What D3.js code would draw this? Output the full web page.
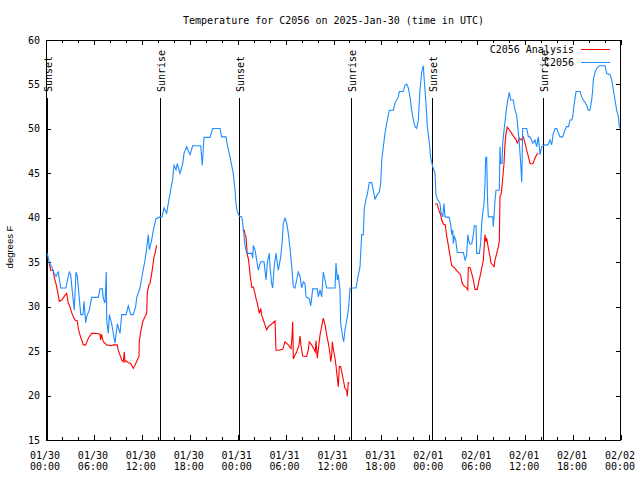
<!DOCTYPE html>
<html><head><meta charset="utf-8">
<script src="https://cdn.jsdelivr.net/npm/d3@7"></script>
<style>
body{margin:0;background:#fff}
svg{display:block}
text{font-family:"DejaVu Sans Mono",monospace;font-size:10px;fill:#000}
</style>
</head><body>
<svg id="chart" width="640" height="480"></svg>
<script>
// ---- data (hours since 2025-01-30 00:00 UTC, degrees F) ----
const obsHours = [
0.16,0.41,0.71,1.00,1.25,1.54,1.84,2.50,2.59,2.92,
3.09,3.22,3.42,3.54,3.76,3.92,4.17,4.35,4.63,4.76,
4.97,5.13,5.42,5.72,6.55,6.76,7.05,7.18,7.39,7.55,
7.60,7.70,7.80,7.93,8.23,8.64,8.93,9.27,9.48,10.02,
10.31,10.61,10.93,11.23,11.36,11.77,11.98,12.40,12.52,12.81,
12.94,13.24,13.44,13.77,14.28,14.53,14.78,15.11,15.31,15.61,
15.87,16.03,16.28,16.44,16.78,17.12,17.28,17.62,18.03,18.37,
19.37,19.57,19.78,20.54,20.87,21.79,22.00,22.54,22.70,22.95,
23.25,23.45,23.67,23.79,23.95,24.20,24.51,24.63,24.79,24.92,
25.13,25.76,25.88,25.96,26.17,26.38,26.58,26.88,27.30,27.55,
27.71,27.96,28.05,28.26,28.39,28.55,28.80,29.09,29.39,29.59,
29.71,29.93,30.14,30.34,30.55,30.77,30.97,31.18,31.39,31.59,
31.81,32.02,32.22,32.43,32.56,32.97,33.15,33.40,33.97,34.10,
34.31,34.52,34.72,34.94,35.15,36.19,36.31,36.48,36.60,36.81,
36.90,37.15,37.28,37.44,37.57,37.78,37.94,38.07,38.82,38.99,
39.32,39.53,39.73,39.86,40.07,40.23,40.48,40.78,40.98,41.20,
41.48,41.74,41.91,42.04,42.24,42.45,42.74,42.99,43.49,43.70,
44.11,44.24,44.74,44.95,45.17,45.37,45.58,45.79,45.99,46.21,
46.42,46.62,46.83,47.05,47.25,47.33,47.58,47.75,48.00,48.17,
48.42,48.71,48.83,49.00,49.34,49.43,49.68,49.84,49.96,50.50,
50.68,50.81,50.93,51.00,51.13,51.30,51.50,52.26,52.47,52.68,
52.81,52.97,53.09,53.31,53.51,53.63,53.85,53.93,54.26,54.43,
54.56,54.68,54.85,54.97,55.06,55.18,55.29,55.39,55.94,56.01,
56.23,56.35,56.76,56.85,56.94,57.10,57.19,57.35,57.69,57.89,
58.01,58.19,58.51,58.73,58.94,59.07,59.27,59.44,59.57,59.69,
60.19,60.40,60.61,60.95,61.23,61.44,61.65,61.86,62.07,62.48,
62.86,63.11,63.32,63.52,63.74,63.95,64.36,64.70,64.99,65.20,
65.43,65.62,65.83,65.96,66.12,66.37,66.87,67.08,67.28,67.70,
67.91,68.12,68.33,68.46,68.53,68.75,68.96,69.28,70.00,70.21,
70.63,70.84,71.04,71.25,71.46,71.67,71.79,71.88];
const obsTemps = [
36.0,34.95,34.5,33.8,33.4,33.9,32.1,32.1,32.6,33.9,
33.6,32.4,30.6,29.6,33.9,33.4,30.9,29.1,29.1,30.6,
28.2,29.0,29.6,31.05,31.05,32.0,32.0,30.9,30.4,33.9,
28.5,27.7,27.0,29.1,28.05,25.9,28.05,27.0,29.1,29.1,
30.1,29.1,29.1,30.0,31.05,32.1,33.2,35.25,36.0,38.1,
36.4,37.5,38.6,39.9,40.1,40.1,41.1,40.5,41.6,43.1,
44.4,45.9,45.4,46.1,45.0,46.1,47.25,48.0,47.1,48.1,
48.1,45.9,49.05,49.05,50.05,50.05,49.1,49.1,48.2,47.25,
45.9,45.0,43.1,41.6,40.7,40.2,40.1,39.4,38.1,36.9,
36.0,36.0,35.45,36.9,36.4,35.25,34.1,35.05,35.05,33.0,
34.9,36.0,34.5,32.6,32.1,34.3,36.0,34.1,35.6,37.5,
39.4,39.95,39.4,38.25,36.6,34.5,32.25,32.1,33.0,33.9,
33.4,32.1,32.8,32.6,31.1,30.9,30.1,32.0,32.0,31.1,
31.9,31.1,33.9,33.0,32.1,32.1,34.9,33.0,33.6,31.9,
28.1,26.6,26.05,27.4,28.05,29.1,30.4,32.1,32.1,33.0,
34.5,38.1,38.1,41.1,42.1,42.6,43.95,43.95,43.1,42.1,
42.6,42.9,43.9,46.5,48.0,49.5,51.0,52.1,52.1,52.9,
53.6,54.2,54.2,54.9,55.05,54.6,53.6,52.1,51.0,50.25,
50.05,51.0,54.4,56.4,57.1,55.9,52.9,50.25,48.4,46.7,
45.75,45.0,42.6,42.1,41.6,40.7,40.1,41.6,40.1,40.05,
39.2,38.1,38.65,37.1,37.9,37.5,36.1,36.1,35.25,35.8,
38.1,37.3,37.05,37.05,38.1,39.1,39.1,36.0,36.0,37.1,
39.4,40.5,41.6,43.9,46.8,46.8,42.0,40.1,40.1,39.0,
42.0,43.1,43.1,48.0,46.1,46.1,48.4,49.8,52.5,53.6,
54.1,53.25,53.25,52.1,51.55,50.25,48.4,46.1,44.0,50.05,
50.05,49.1,49.1,48.4,48.75,48.0,49.1,47.1,48.0,48.2,
48.2,48.75,48.2,49.5,50.05,50.05,49.1,49.1,49.9,50.25,
50.25,51.0,51.0,51.4,52.7,54.2,54.2,53.6,53.25,52.7,
52.1,52.1,53.25,54.4,55.5,56.4,56.8,57.1,57.1,56.25,
56.1,55.5,54.4,53.25,52.1,51.4,50.25,50.05];

// analysis series, null marks a gap between night segments
const anaHours = [
0.41,0.59,0.91,1.00,1.25,1.41,1.67,1.97,2.25,2.59,2.79,
3.01,3.22,3.42,3.63,3.92,4.04,4.26,4.47,4.67,4.97,
5.30,5.72,6.26,6.76,6.85,6.95,7.18,7.60,8.23,8.43,
8.93,9.05,9.27,9.48,9.68,9.80,9.89,10.02,10.31,10.61,
10.93,11.14,11.43,11.65,11.68,11.86,12.11,12.40,12.61,12.68,
12.86,13.02,13.24,13.36,13.52,13.65,13.86,
null,
24.63,24.83,24.92,25.04,25.13,25.21,25.33,25.46,25.55,25.67,
25.76,25.96,26.17,26.30,26.46,26.58,26.71,26.88,27.01,27.21,
27.42,27.63,27.84,28.26,28.68,28.80,29.09,29.64,29.93,30.34,
30.68,30.81,30.89,30.97,31.18,31.39,31.68,31.81,31.93,32.14,
32.64,32.85,32.97,33.27,33.56,33.72,33.81,33.97,34.10,34.31,
34.52,34.72,34.94,35.15,35.35,35.56,35.65,35.77,35.85,35.98,
36.19,36.31,36.48,36.60,36.73,36.90,37.03,37.23,37.44,37.65,
37.73,37.85,37.98,
null,
48.71,49.00,49.12,49.25,49.43,49.55,49.75,50.00,50.18,50.38,
50.50,50.68,50.81,51.00,51.22,51.43,51.75,51.93,52.06,52.26,
52.47,52.68,52.81,52.88,53.09,53.31,53.51,53.72,54.01,54.14,
54.35,54.56,54.76,54.97,55.10,55.18,55.39,55.60,55.72,55.94,
56.10,56.23,56.44,56.64,56.76,56.85,56.97,57.06,57.19,57.35,
57.48,57.60,57.76,58.01,58.31,58.60,58.85,59.01,59.27,59.48,
59.77,59.98,60.19,60.40,60.61,60.95,61.23,61.44,61.65];
const anaTemps = [
34.9,34.1,34.1,33.4,32.6,31.9,30.6,30.75,31.1,31.5,30.4,
30.0,29.3,28.9,28.5,28.4,27.55,26.8,26.25,25.7,25.7,
26.45,27.0,27.0,26.9,26.25,26.9,26.05,25.7,25.6,25.7,
25.7,25.1,24.55,24.0,23.8,24.9,23.8,23.9,23.7,23.6,
23.05,23.4,24.0,24.4,26.05,27.2,28.3,28.9,29.25,31.5,
32.4,32.6,33.75,34.5,35.55,36.0,36.9,
null,
38.6,38.6,38.1,37.9,36.75,35.8,35.45,34.5,33.6,32.8,
32.2,32.2,31.5,30.9,30.4,29.8,29.25,29.8,29.05,28.5,
27.95,27.4,27.75,28.05,28.4,25.1,25.1,25.2,26.05,25.7,
25.3,26.7,28.3,24.1,24.55,24.9,25.7,26.7,25.6,24.45,
24.4,25.2,26.05,25.7,25.2,24.9,26.2,24.2,25.2,26.8,
27.75,28.7,27.95,26.8,25.9,24.75,23.8,24.55,26.05,25.2,
24.2,23.4,21.95,21.0,23.25,23.25,22.7,21.75,20.8,20.6,
19.9,21.45,21.45,
null,
41.55,41.55,41.05,40.7,40.3,39.75,39.3,39.2,37.9,36.9,
36.2,35.25,34.6,34.5,34.3,34.05,33.75,33.55,32.8,32.4,
32.25,32.1,31.9,34.4,34.4,33.75,33.0,31.95,31.95,32.6,
33.4,34.3,35.25,38.1,37.3,37.7,36.6,35.6,34.9,34.7,
34.5,35.25,36.0,36.75,37.3,42.4,42.6,43.2,44.45,46.1,
48.4,49.5,50.2,49.9,49.5,49.1,48.8,48.4,48.95,48.75,
49.1,48.4,47.6,46.9,46.1,46.05,46.7,47.1,47.25];

const sunHours  = [0.17, 14.33, 24.2, 38.23, 48.3, 62.27];
const sunLabels = ["Sunset","Sunrise","Sunset","Sunrise","Sunset","Sunrise"];

const xTickHours = [0,6,12,18,24,30,36,42,48,54,60,66,72];
const xTickDates = ["01/30","01/30","01/30","01/30","01/31","01/31","01/31","01/31","02/01","02/01","02/01","02/01","02/02"];
const xTickTimes = ["00:00","06:00","12:00","18:00","00:00","06:00","12:00","18:00","00:00","06:00","12:00","18:00","00:00"];
const xMinorHours = d3.range(0, 73, 2);
const yTickValues = [15,20,25,30,35,40,45,50,55,60];

const seriesNames = ["C2056 Analysis", "C2056"];
const seriesColors = ["#ff0000", "#1e8cff"];
const titleText = "Temperature for C2056 on 2025-Jan-30 (time in UTC)";
const yLabelText = "degrees F";

// ---- layout ----
const L = 46, R = 621, T = 40, B = 440;
const svg = d3.select("#chart");
const x = d3.scaleLinear().domain([0, 72]).range([L, R]);
const y = d3.scaleLinear().domain([15, 60]).range([B, T]);

// axes (ticks pointing inward, mirrored)
function styleAxis(g){ g.select(".domain").remove(); g.selectAll("line").attr("stroke","#000"); g.attr("shape-rendering","crispEdges"); }
svg.append("g").attr("transform",`translate(0,${B})`)
  .call(d3.axisBottom(x).tickValues(xMinorHours).tickSize(-3).tickFormat("")).call(styleAxis);
svg.append("g").attr("transform",`translate(0,${B})`)
  .call(d3.axisBottom(x).tickValues(xTickHours).tickSize(-5).tickFormat("")).call(styleAxis);
svg.append("g").attr("transform",`translate(0,${T})`)
  .call(d3.axisTop(x).tickValues(xMinorHours).tickSize(-3).tickFormat("")).call(styleAxis);
svg.append("g").attr("transform",`translate(0,${T})`)
  .call(d3.axisTop(x).tickValues(xTickHours).tickSize(-5).tickFormat("")).call(styleAxis);
svg.append("g").attr("transform",`translate(${L},0)`)
  .call(d3.axisLeft(y).tickValues(yTickValues).tickSize(-5).tickFormat("")).call(styleAxis);
svg.append("g").attr("transform",`translate(${R},0)`)
  .call(d3.axisRight(y).tickValues(yTickValues).tickSize(-5).tickFormat("")).call(styleAxis);

// tick labels
const xl = svg.append("g").selectAll("text").data(xTickHours).join("text")
  .attr("text-anchor","middle");
xl.append("tspan").attr("x", d => x(d) - 1).attr("y", 458.5).text((d,i) => xTickDates[i]);
xl.append("tspan").attr("x", d => x(d) - 1).attr("y", 469.5).text((d,i) => xTickTimes[i]);

svg.append("g").selectAll("text").data(yTickValues).join("text")
  .attr("text-anchor","end").attr("x", L - 6).attr("y", d => y(d) + 3.5).text(d => d);

// border
svg.append("rect").attr("x", L + 0.5).attr("y", T + 0.5).attr("width", R - L - 1).attr("height", B - T)
  .attr("fill","none").attr("stroke","#000").attr("shape-rendering","crispEdges");

// title and y label
svg.append("text").attr("x", (L + R) / 2).attr("y", 24).attr("text-anchor","middle").text(titleText);
svg.append("text").attr("transform","translate(13,247) rotate(-90)").attr("text-anchor","middle")
  .style("font-family","'Liberation Sans',Arial,sans-serif").style("font-size","9.5px").text(yLabelText);

// sunrise / sunset
const sun = svg.append("g");
sun.selectAll("line").data(sunHours).join("line")
  .attr("x1", d => Math.round(x(d)) + 0.5).attr("x2", d => Math.round(x(d)) + 0.5)
  .attr("y1", 98).attr("y2", B).attr("stroke","#000").attr("stroke-width",1.2)
  .attr("shape-rendering","crispEdges");
sun.selectAll("text").data(sunHours).join("text")
  .attr("transform", d => `translate(${Math.round(x(d)) + 5},92) rotate(-90)`)
  .attr("text-anchor","start").text((d,i) => sunLabels[i]);

// data lines
const ana = anaHours.map((h,i) => ({h, t: anaTemps[i]}));
const obs = obsHours.map((h,i) => ({h, t: obsTemps[i]}));
const line = d3.line().defined(d => d.h != null && d.t != null).x(d => x(d.h)).y(d => y(d.t));
svg.append("path").datum(ana).attr("d", line).attr("fill","none")
  .attr("stroke", seriesColors[0]).attr("stroke-width", 1.1);
svg.append("path").datum(obs).attr("d", line).attr("fill","none")
  .attr("stroke", seriesColors[1]).attr("stroke-width", 1.1);

// legend
const legY = [49.5, 62.5];
const leg = svg.append("g");
seriesNames.forEach((name, i) => {
  leg.append("text").attr("x", 574).attr("y", legY[i] + 3.5).attr("text-anchor","end").text(name);
  leg.append("line").attr("x1", 581).attr("x2", 610).attr("y1", legY[i]).attr("y2", legY[i])
    .attr("stroke", seriesColors[i]).attr("stroke-width", 1).attr("shape-rendering","crispEdges");
});
</script>
</body></html>
